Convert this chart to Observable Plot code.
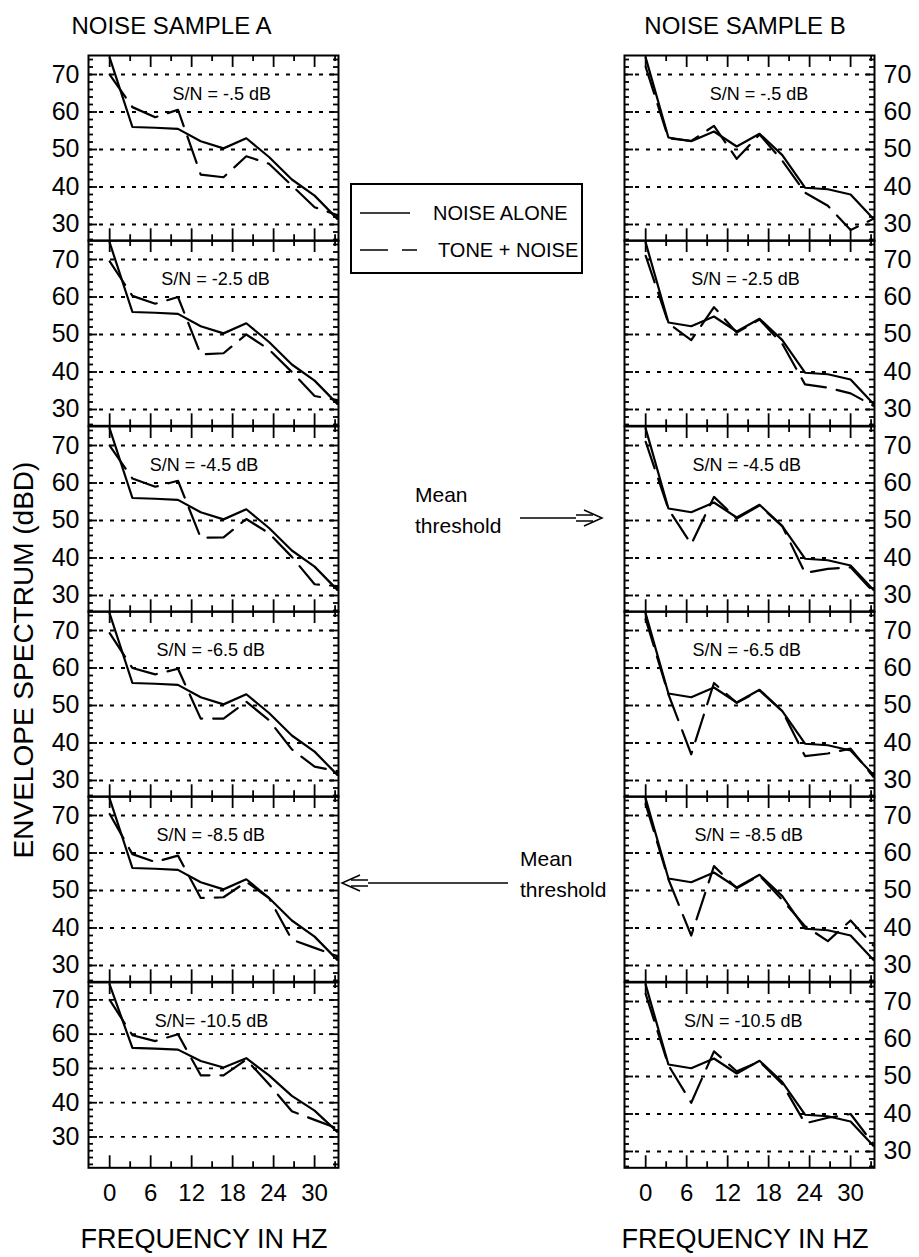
<!DOCTYPE html>
<html><head><meta charset="utf-8">
<script src="https://cdn.jsdelivr.net/npm/d3@7"></script>
<script src="https://cdn.jsdelivr.net/npm/@observablehq/plot@0.6"></script>
<style>
body{margin:0;background:#fff;}
#fig{position:relative;width:919px;height:1257px;font-family:"Liberation Sans",Arial,sans-serif;overflow:hidden;}
#fig .pw{position:absolute;}
#overlay{position:absolute;left:0;top:0;}
</style></head><body><div id="fig"></div>
<script>
// ---------- data ----------
const freqs = [0, 3.33, 6.67, 10, 13.33, 16.67, 20, 23.33, 26.67, 30, 33.33];
const noiseA = [74.5, 56, 55.8, 55.5, 52.2, 50.3, 53, 48, 42, 37.7, 31.5];
const noiseB = [74.5, 53.2, 52.2, 54.8, 50.8, 54.2, 48.5, 39.8, 39.4, 38, 31.5];
const toneA1 = [70, 61.3, 58.6, 60.6, 43.3, 42.6, 48.2, 46.2, 40.4, 34.6, 32.5];
const toneA2 = [69.5, 60.3, 58.2, 60, 44.7, 45, 50, 46, 40, 33.6, 32.5];
const toneA3 = [70, 61.2, 59, 60.6, 45.4, 45.5, 50.4, 46.6, 40.3, 33, 32.5];
const toneA4 = [69.3, 60, 58.3, 59.8, 46.5, 46.5, 51, 46.1, 38.3, 33.7, 32.5];
const toneA5 = [70.4, 59.7, 57.6, 59.3, 48, 48.2, 52.3, 48, 36.9, 34.7, 32.5];
const toneA6 = [70, 59.7, 58, 60, 48, 48, 52.6, 45.4, 37.5, 35, 32.5];
const toneB1 = [72, 53, 52.3, 56.3, 47.5, 54, 47, 38.5, 35, 28.5, 31.5];
const toneB2 = [71, 53, 48.5, 57.3, 50.5, 54, 47.5, 36.7, 35.8, 34.3, 31];
const toneB3 = [71, 53, 43.7, 56.3, 50.5, 54, 48.5, 36, 37.1, 37.5, 31];
const toneB4 = [73, 53, 37, 56, 50.7, 54, 48.5, 36.5, 37.2, 38.5, 31];
const toneB5 = [73, 53, 38, 56.5, 50.6, 54, 47.5, 40.5, 36.5, 42, 35.3];
const toneB6 = [72, 53, 43, 56.7, 51.4, 54, 48, 37.5, 39, 40, 32];
const snrLabelsA = ["S/N = -.5 dB", "S/N = -2.5 dB", "S/N = -4.5 dB", "S/N = -6.5 dB", "S/N = -8.5 dB", "S/N= -10.5 dB"];
const snrLabelsB = ["S/N = -.5 dB", "S/N = -2.5 dB", "S/N = -4.5 dB", "S/N = -6.5 dB", "S/N = -8.5 dB", "S/N = -10.5 dB"];
const yTickValues = [30, 40, 50, 60, 70];
const xTickValues = [0, 6, 12, 18, 24, 30];
const xMinorValues = [3, 9, 15, 21, 27, 33];
const legendLabels = ["NOISE ALONE", "TONE + NOISE"];

// ---------- layout ----------
const FONT = '"Liberation Sans", Arial, sans-serif';
const W = 250, H = 185.3, TOP0 = 55;
const xDomain = [-3.1, 33.5];
const yDomainStd = [25.65, 75.07];
const yDomainA6 = [21.0, 75.1];
const labelXA = [16.4, 15.5, 13.8, 14.8, 14.8, 14.9];
const labelXB = [16.6, 14.6, 14.8, 14.8, 15.1, 14.3];
const tonesA = [toneA1, toneA2, toneA3, toneA4, toneA5, toneA6];
const tonesB = [toneB1, toneB2, toneB3, toneB4, toneB5, toneB6];

const fig = document.getElementById("fig");

function panel({noise, tone, label, labelX, yDomain, side, bottom}) {
  const yMinor = d3.range(Math.ceil(yDomain[0] / 2) * 2, yDomain[1], 2).filter(v => v % 10 !== 0);
  const yMajor = yTickValues;
  const rows = freqs.map((f, i) => ({f, noise: noise[i], tone: tone[i]}));
  const mb = bottom ? 45 : 2;
  const ml = side === "left" ? 88 : 4;
  const mr = side === "left" ? 4 : 45;
  const tk = {stroke: "black", strokeWidth: 1.8};
  const marks = [
    Plot.ruleY(yMajor, {y: d => d, stroke: "black", strokeWidth: 1.8, strokeDasharray: "4,7"}),
    Plot.tickY(yMinor, {y: d => d, insetRight: W - 5, ...tk}),
    Plot.tickY(yMinor, {y: d => d, insetLeft: W - 5, ...tk}),
    Plot.tickY(yMajor, {y: d => d, insetRight: W - 9, ...tk}),
    Plot.tickY(yMajor, {y: d => d, insetLeft: W - 9, ...tk}),
    Plot.tickX(xTickValues, {x: d => d, insetBottom: H - 12, ...tk}),
    Plot.tickX(xTickValues, {x: d => d, insetTop: H - 12, ...tk}),
    Plot.tickX(xMinorValues, {x: d => d, insetBottom: H - 6, ...tk}),
    Plot.tickX(xMinorValues, {x: d => d, insetTop: H - 6, ...tk}),
    Plot.line(rows, {x: "f", y: "noise", stroke: "black", strokeWidth: 2.2}),
    Plot.line(rows, {x: "f", y: "tone", stroke: "black", strokeWidth: 2.2, strokeDasharray: "28,11"}),
    Plot.text([{t: label, f: labelX}], {x: "f", text: "t", frameAnchor: "top", dy: 32, fontSize: 18, fill: "black"}),
    Plot.frame({stroke: "black", strokeWidth: 2}),
    Plot.axisY(yMajor, {anchor: side, tickSize: 0, tickPadding: 9, fontSize: 25, label: null, fill: "black"})
  ];
  if (bottom) marks.push(Plot.axisX(xTickValues, {anchor: "bottom", tickSize: 0, tickPadding: 16, fontSize: 24, label: null, fill: "black"}));
  return Plot.plot({
    width: ml + W + mr,
    height: 2 + H + mb,
    marginTop: 2, marginBottom: mb, marginLeft: ml, marginRight: mr,
    x: {domain: xDomain, axis: null},
    y: {domain: yDomain, axis: null},
    style: {background: "transparent", overflow: "visible", fontFamily: FONT, color: "black"},
    marks
  });
}

for (let i = 0; i < 6; i++) {
  const top = TOP0 + i * H - 2;
  const last = i === 5;
  const pa = panel({noise: noiseA, tone: tonesA[i], label: snrLabelsA[i], labelX: labelXA[i],
    yDomain: last ? yDomainA6 : yDomainStd, side: "left", bottom: last});
  const da = document.createElement("div"); da.className = "pw";
  da.style.left = "0px"; da.style.top = top + "px"; da.appendChild(pa); fig.appendChild(da);
  const pb = panel({noise: noiseB, tone: tonesB[i], label: snrLabelsB[i], labelX: labelXB[i],
    yDomain: yDomainStd, side: "right", bottom: last});
  const db = document.createElement("div"); db.className = "pw";
  db.style.left = "620px"; db.style.top = top + "px"; db.appendChild(pb); fig.appendChild(db);
}

// ---------- overlay: titles, legend, annotations ----------
const svg = d3.select(fig).append("svg").attr("id", "overlay")
  .attr("width", 919).attr("height", 1257)
  .style("font-family", FONT).style("overflow", "visible");

function txt(x, y, s, size, anchor = "start") {
  return svg.append("text").attr("x", x).attr("y", y).attr("font-size", size)
    .attr("text-anchor", anchor).attr("fill", "black").text(s);
}
txt(171.5, 34, "NOISE SAMPLE A", 24, "middle");
txt(745, 34, "NOISE SAMPLE B", 24, "middle");
txt(204, 1248, "FREQUENCY IN HZ", 27, "middle");
txt(745, 1248, "FREQUENCY IN HZ", 27, "middle");
svg.append("text").attr("transform", "translate(33,660) rotate(-90)")
  .attr("text-anchor", "middle").attr("font-size", 28).attr("fill", "black")
  .text("ENVELOPE SPECTRUM (dBD)");

// legend
svg.append("rect").attr("x", 351).attr("y", 184).attr("width", 231).attr("height", 89)
  .attr("fill", "white").attr("stroke", "black").attr("stroke-width", 2);
svg.append("line").attr("x1", 360).attr("x2", 410).attr("y1", 213).attr("y2", 213)
  .attr("stroke", "black").attr("stroke-width", 1.6);
svg.append("line").attr("x1", 360).attr("x2", 417).attr("y1", 250).attr("y2", 250)
  .attr("stroke", "black").attr("stroke-width", 1.6).attr("stroke-dasharray", "28,14");
txt(433, 220, legendLabels[0], 20);
txt(438, 257, legendLabels[1], 20);

// annotations: single shaft, hollow (double-line) head
function arrow(x1, x2, y) {
  const d = Math.sign(x2 - x1);
  const g = svg.append("g").attr("fill", "none").attr("stroke", "black").attr("stroke-width", 1.5);
  g.append("line").attr("x1", x1).attr("x2", x2 - d * 26).attr("y1", y).attr("y2", y);
  g.append("line").attr("x1", x2 - d * 26).attr("x2", x2 - d * 9).attr("y1", y - 3).attr("y2", y - 3);
  g.append("line").attr("x1", x2 - d * 26).attr("x2", x2 - d * 9).attr("y1", y + 3).attr("y2", y + 3);
  g.append("path").attr("d", `M${x2 - d * 18},${y - 8} L${x2},${y} L${x2 - d * 18},${y + 8}`);
}
txt(415, 502, "Mean", 21);
txt(415, 533, "threshold", 21);
arrow(520, 602, 518);
txt(520, 866, "Mean", 21);
txt(520, 897, "threshold", 21);
arrow(508, 342, 883);
</script>
</body></html>
